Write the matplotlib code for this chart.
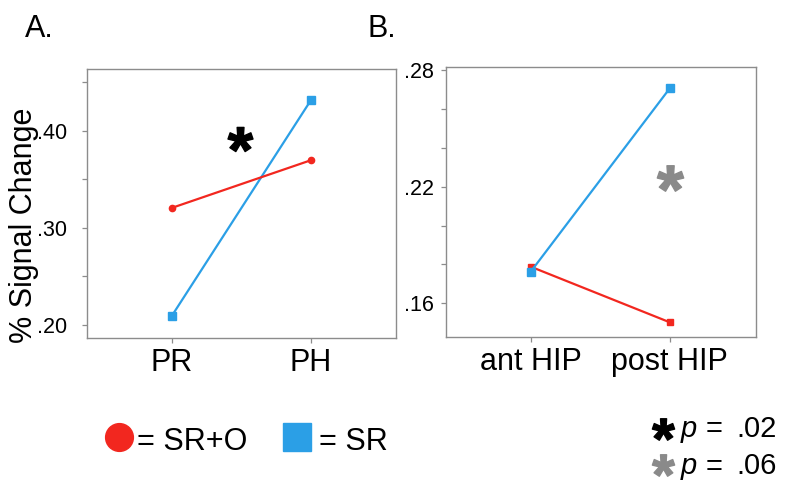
import numpy as np
import matplotlib
matplotlib.use("Agg")
import matplotlib.pyplot as plt
from matplotlib.lines import Line2D
from matplotlib.textpath import TextPath
from matplotlib.font_manager import FontProperties
from matplotlib.path import Path

plt.rcParams['font.family'] = ['Liberation Sans', 'DejaVu Sans']

# ---- data ----
cats_a = ["PR", "PH"]
sr_o_a = [0.3205, 0.3696]   # SR+O (red)
sr_a = [0.2095, 0.4316]     # SR (blue)

cats_b = ["ant HIP", "post HIP"]
sr_o_b = [0.1788, 0.1502]
sr_b = [0.1763, 0.2706]

yticks_a = [0.20, 0.30, 0.40]
yticklabels_a = [".20", ".30", ".40"]
yticks_b = [0.16, 0.22, 0.28]
yticklabels_b = [".16", ".22", ".28"]

legend_labels = ["= SR+O", "= SR"]
p_labels = ["p", "p"]
p_values = [".02", ".06"]

RED = "#f2271f"
BLUE = "#2b9fe6"
GREY_STAR = "#8a8a8a"
SPINE = "#8c8c8c"

# asterisk marker path (centered on its ink, CLOSEPOLY vertices neutralised)
fp = FontProperties(family='Liberation Sans', weight='bold')
tp = TextPath((0, 0), "*", prop=fp, size=10)
v = tp.vertices.copy()
codes = tp.codes
real = codes != Path.CLOSEPOLY
cx = (v[real, 0].min() + v[real, 0].max()) / 2
cy = (v[real, 1].min() + v[real, 1].max()) / 2
v[:, 0] -= cx
v[:, 1] -= cy
v[~real] = 0.0
star = Path(v, codes)

W, H = 788, 483
fig = plt.figure(figsize=(7.88, 4.83), dpi=100)

def fx(px):
    return px / W

def fy(py):
    return 1 - py / H

axA = fig.add_axes([fx(87), fy(338), fx(396) - fx(87), fy(69) - fy(338)])
axB = fig.add_axes([fx(446), fy(336.7), fx(756) - fx(446), fy(66.7) - fy(336.7)])

xa = np.arange(len(cats_a))
axA.plot(xa, sr_o_a, color=RED, lw=1.6, marker='o', ms=4.5, mec=RED, mfc=RED, zorder=3)
axA.plot(xa, sr_a, color=BLUE, lw=1.6, marker='s', ms=6, mec=BLUE, mfc=BLUE, zorder=2)
axA.set_xlim(-0.61, 1.61)
axA.set_ylim(0.1866, 0.4634)
axA.set_yticks(yticks_a)
axA.set_yticklabels(yticklabels_a)
axA.set_yticks([0.25, 0.35, 0.45], minor=True)
axA.set_xticks(xa)
axA.set_xticklabels(cats_a)
axA.plot([0.489], [0.391], marker=star, ms=18, color='black', ls='none')

xb = np.arange(len(cats_b))
axB.plot(xb, sr_o_b, color=RED, lw=1.6, marker='s', ms=4.5, mec=RED, mfc=RED, zorder=2)
axB.plot(xb, sr_b, color=BLUE, lw=1.6, marker='s', ms=6, mec=BLUE, mfc=BLUE, zorder=3)
axB.set_xlim(-0.61, 1.62)
axB.set_ylim(0.1428, 0.2817)
axB.set_yticks(yticks_b)
axB.set_yticklabels(yticklabels_b)
axB.set_yticks([0.18, 0.20, 0.24, 0.26], minor=True)
axB.set_xticks(xb)
axB.set_xticklabels(cats_b)
axB.plot([1.0], [0.2245], marker=star, ms=19, color=GREY_STAR, ls='none')

for ax, ypad in ((axA, 11), (axB, 5)):
    for s in ax.spines.values():
        s.set_color(SPINE)
        s.set_linewidth(1.0)
    ax.tick_params(axis='both', which='both', direction='out', color=SPINE,
                   length=3.5, width=0.9)
    ax.tick_params(axis='y', which='major', labelsize=15.5, pad=ypad)
    ax.tick_params(axis='x', which='major', labelsize=22, pad=4)

fig.text(fx(24), fy(225), "% Signal Change", rotation=90, fontsize=22,
         ha='center', va='center')
fig.text(fx(25), fy(37), "A.", fontsize=22, ha='left', va='baseline')
fig.text(fx(368), fy(37), "B.", fontsize=22, ha='left', va='baseline')

# legend
fig.add_artist(Line2D([fx(118.5)], [fy(436.5)], transform=fig.transFigure,
                      marker='o', ms=20, color=RED, mec=RED, ls='none'))
fig.text(fx(137), fy(450), legend_labels[0], fontsize=22, ha='left', va='baseline')
fig.add_artist(Line2D([fx(297)], [fy(437)], transform=fig.transFigure,
                      marker='s', ms=20, color=BLUE, mec=BLUE, ls='none'))
fig.text(fx(319), fy(450), legend_labels[1], fontsize=22, ha='left', va='baseline')

# p-value key
for (ys, yb, col, pl, pv) in ((428.5, 437, 'black', p_labels[0], p_values[0]),
                              (465, 474.5, GREY_STAR, p_labels[1], p_values[1])):
    fig.add_artist(Line2D([fx(662.5)], [fy(ys)], transform=fig.transFigure,
                          marker=star, ms=16, color=col, ls='none'))
    fig.text(fx(681), fy(yb), pl, fontsize=21, style='italic', ha='left', va='baseline')
    fig.text(fx(706), fy(yb), "=", fontsize=21, ha='left', va='baseline')
    fig.text(fx(736), fy(yb), pv, fontsize=21, ha='left', va='baseline')

fig.savefig("out.png", dpi=100)
